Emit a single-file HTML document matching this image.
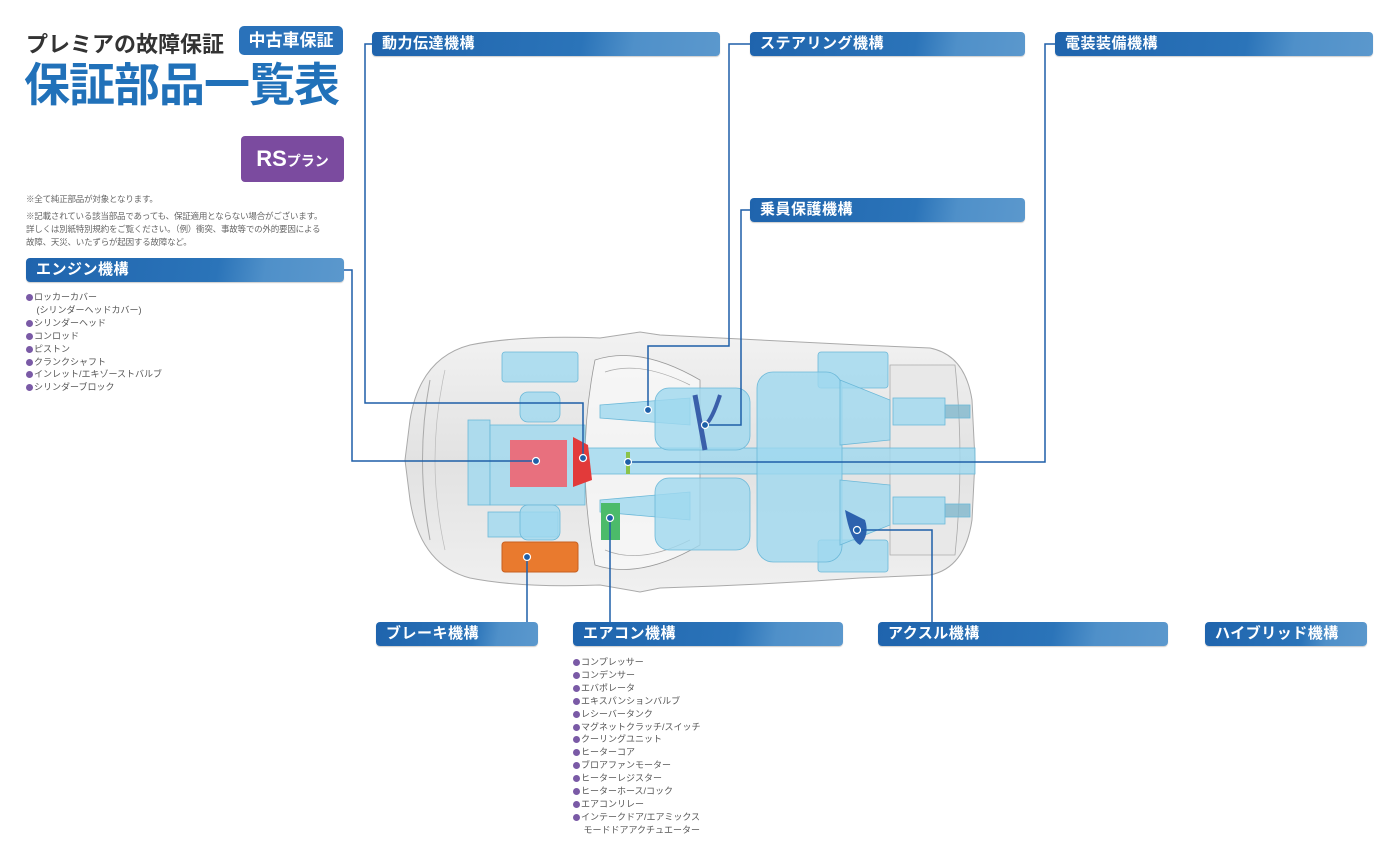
<!DOCTYPE html>
<html><head><meta charset="utf-8">
<style>
*{margin:0;padding:0;box-sizing:border-box}
body{width:1400px;height:860px;background:#fff;position:relative;overflow:hidden;font-family:"Liberation Sans","Noto Sans CJK JP",sans-serif}
.abs{position:absolute}
.hd{position:absolute;height:24px;border-radius:4px;background:linear-gradient(100deg,#1f64ad 0%,#2b74b9 60%,#4f90c9 75%,#5b98cd 100%);color:#fff;font-weight:bold;font-size:15px;line-height:24px;padding-left:10px;letter-spacing:0.5px;box-shadow:0 1px 1px rgba(0,0,0,.2)}
.list{position:absolute;font-size:9px;color:#555;line-height:12.9px;white-space:nowrap}
.list div:before{content:"";display:inline-block;width:7px;height:7px;border-radius:50%;background:#7a5aa6;margin-right:1px;vertical-align:-1px}
.list div.c:before{background:none}
.note{position:absolute;font-size:8.5px;color:#666;line-height:13px;white-space:nowrap;letter-spacing:-0.2px}
</style></head><body>

<div class="abs" style="left:26px;top:27px;font-size:22px;font-weight:bold;color:#333;letter-spacing:0px">プレミアの故障保証</div>
<div class="abs" style="left:239px;top:26px;width:104px;height:29px;background:#2a72ba;border-radius:5px;color:#fff;font-weight:bold;font-size:17px;line-height:29px;text-align:center">中古車保証</div>
<div class="abs" style="left:24px;top:57px;font-size:46px;font-weight:bold;color:#2171b9;letter-spacing:-1px;line-height:56px">保証部品一覧表</div>
<div class="abs" style="left:241px;top:136px;width:103px;height:46px;background:#7b4b9f;border-radius:4px;color:#fff;font-weight:bold;line-height:46px;text-align:center"><span style="font-size:22px">RS</span><span style="font-size:14px">プラン</span></div>

<div class="note" style="left:26px;top:193px">※全て純正部品が対象となります。</div>
<div class="note" style="left:26px;top:210px">※記載されている該当部品であっても、保証適用とならない場合がございます。<br>詳しくは別紙特別規約をご覧ください。（例）衝突、事故等での外的要因による<br>故障、天災、いたずらが起因する故障など。</div>

<div class="hd" style="left:26px;top:258px;width:318px">エンジン機構</div>
<div class="list" style="left:26px;top:291px">
<div>ロッカーカバー</div><div class="c">&nbsp;(シリンダーヘッドカバー)</div><div>シリンダーヘッド</div><div>コンロッド</div><div>ピストン</div><div>クランクシャフト</div><div>インレット/エキゾーストバルブ</div><div>シリンダーブロック</div>
</div>

<div class="hd" style="left:372px;top:32px;width:348px">動力伝達機構</div>
<div class="hd" style="left:750px;top:32px;width:275px">ステアリング機構</div>
<div class="hd" style="left:750px;top:198px;width:275px">乗員保護機構</div>
<div class="hd" style="left:1055px;top:32px;width:318px">電装装備機構</div>
<div class="hd" style="left:376px;top:622px;width:162px">ブレーキ機構</div>
<div class="hd" style="left:573px;top:622px;width:270px">エアコン機構</div>
<div class="hd" style="left:878px;top:622px;width:290px">アクスル機構</div>
<div class="hd" style="left:1205px;top:622px;width:162px">ハイブリッド機構</div>

<div class="list" style="left:573px;top:656px">
<div>コンプレッサー</div><div>コンデンサー</div><div>エバポレータ</div><div>エキスパンションバルブ</div><div>レシーバータンク</div><div>マグネットクラッチ/スイッチ</div><div>クーリングユニット</div><div>ヒーターコア</div><div>ブロアファンモーター</div><div>ヒーターレジスター</div><div>ヒーターホース/コック</div><div>エアコンリレー</div><div>インテークドア/エアミックス</div><div class="c">&nbsp;モードドアアクチュエーター</div>
</div>

<svg class="abs" style="left:0;top:0" width="1400" height="860">
<defs>
<linearGradient id="bg" x1="0" y1="0" x2="0" y2="1"><stop offset="0" stop-color="#f2f2f2"/><stop offset=".5" stop-color="#e2e2e2"/><stop offset="1" stop-color="#f0f0f0"/></linearGradient>
</defs>
<path d="M470,345 Q520,335 600,338 L640,332 L660,335 Q760,340 860,345 L930,348 Q965,355 972,400 L975,460 L972,520 Q965,568 930,575 L860,578 Q760,585 660,588 L640,592 L600,585 Q520,588 470,578 Q420,565 410,500 L405,460 L410,420 Q420,358 470,345 Z" fill="url(#bg)" stroke="#aaa" stroke-width="1"/>
<path d="M595,360 Q640,345 700,380 L700,545 Q640,580 595,565 Q575,460 595,360 Z" fill="#fafafa" fill-opacity=".7" stroke="#999" stroke-width=".8"/>
<path d="M890,365 L955,365 Q965,460 955,555 L890,555 Z" fill="#e8e8e8" stroke="#aaa" stroke-width=".8"/>
<path d="M430,380 Q415,460 430,540" fill="none" stroke="#aaa"/>
<path d="M445,370 Q425,460 445,550" fill="none" stroke="#bbb" stroke-width=".7"/>
<path d="M605,372 Q640,360 690,385 M605,550 Q640,565 690,540" fill="none" stroke="#aaa" stroke-width=".7"/>
<g fill="#9fd8ef" fill-opacity=".8" stroke="#6bb8d8" stroke-width=".8">
<rect x="502" y="352" width="76" height="30" rx="3"/>
<rect x="818" y="352" width="70" height="36" rx="3"/>
<rect x="818" y="540" width="70" height="32" rx="3"/>
<rect x="468" y="420" width="22" height="85"/>
<rect x="490" y="425" width="95" height="80"/>
<rect x="585" y="448" width="390" height="26"/>
<path d="M600,405 L690,398 L690,425 L600,418 Z"/>
<path d="M600,500 L690,492 L690,520 L600,512 Z"/>
<rect x="655" y="388" width="95" height="62" rx="14"/>
<rect x="655" y="478" width="95" height="72" rx="14"/>
<rect x="757" y="372" width="85" height="190" rx="16"/>
<path d="M840,380 L890,400 L890,440 L840,445 Z"/>
<path d="M840,480 L890,485 L890,525 L840,545 Z"/>
<rect x="893" y="398" width="52" height="27"/>
<rect x="893" y="497" width="52" height="27"/>
<rect x="945" y="405" width="25" height="13" fill="#7fb6cc"/>
<rect x="945" y="504" width="25" height="13" fill="#7fb6cc"/>
<rect x="488" y="512" width="70" height="25"/>
<rect x="520" y="392" width="40" height="30" rx="8"/>
<rect x="520" y="505" width="40" height="35" rx="8"/>
</g>
<path d="M695,395 L705,450" stroke="#3a5faa" stroke-width="5"/>
<path d="M720,395 Q712,420 705,425" stroke="#3a5faa" stroke-width="4" fill="none"/>
<path d="M845,510 Q850,540 860,545 Q870,535 865,520 Z" fill="#2d62ae"/>
<rect x="510" y="440" width="57" height="47" fill="#e8707e"/>
<path d="M573,437 L588,445 L592,480 L573,487 Z" fill="#e23a3a"/>
<rect x="502" y="542" width="76" height="30" rx="3" fill="#e97a2e" stroke="#c86020"/>
<rect x="601" y="503" width="19" height="37" fill="#4cbb6a"/>
<rect x="626" y="452" width="4" height="22" fill="#8bc34a"/>
<g stroke="#1e5fa8" stroke-width="1.5" fill="none">
<polyline points="372,44 365,44 365,403 583,403 583,458"/>
<polyline points="750,44 729,44 729,346 648,346 648,410"/>
<polyline points="750,210 741,210 741,425 705,425"/>
<polyline points="1055,44 1045,44 1045,462 628,462"/>
<polyline points="344,270 352,270 352,461 536,461"/>
<line x1="527" y1="557" x2="527" y2="622"/>
<line x1="610" y1="518" x2="610" y2="622"/>
<polyline points="932,622 932,530 857,530"/>
</g>
<g fill="#1e5fa8" stroke="#fff" stroke-width="1.2">
<circle cx="536" cy="461" r="3.5"/><circle cx="583" cy="458" r="3.5"/><circle cx="648" cy="410" r="3.5"/><circle cx="705" cy="425" r="3.5"/><circle cx="628" cy="462" r="3.5"/><circle cx="527" cy="557" r="3.5"/><circle cx="610" cy="518" r="3.5"/><circle cx="857" cy="530" r="3.5"/>
</g>
</svg>
</body></html>
